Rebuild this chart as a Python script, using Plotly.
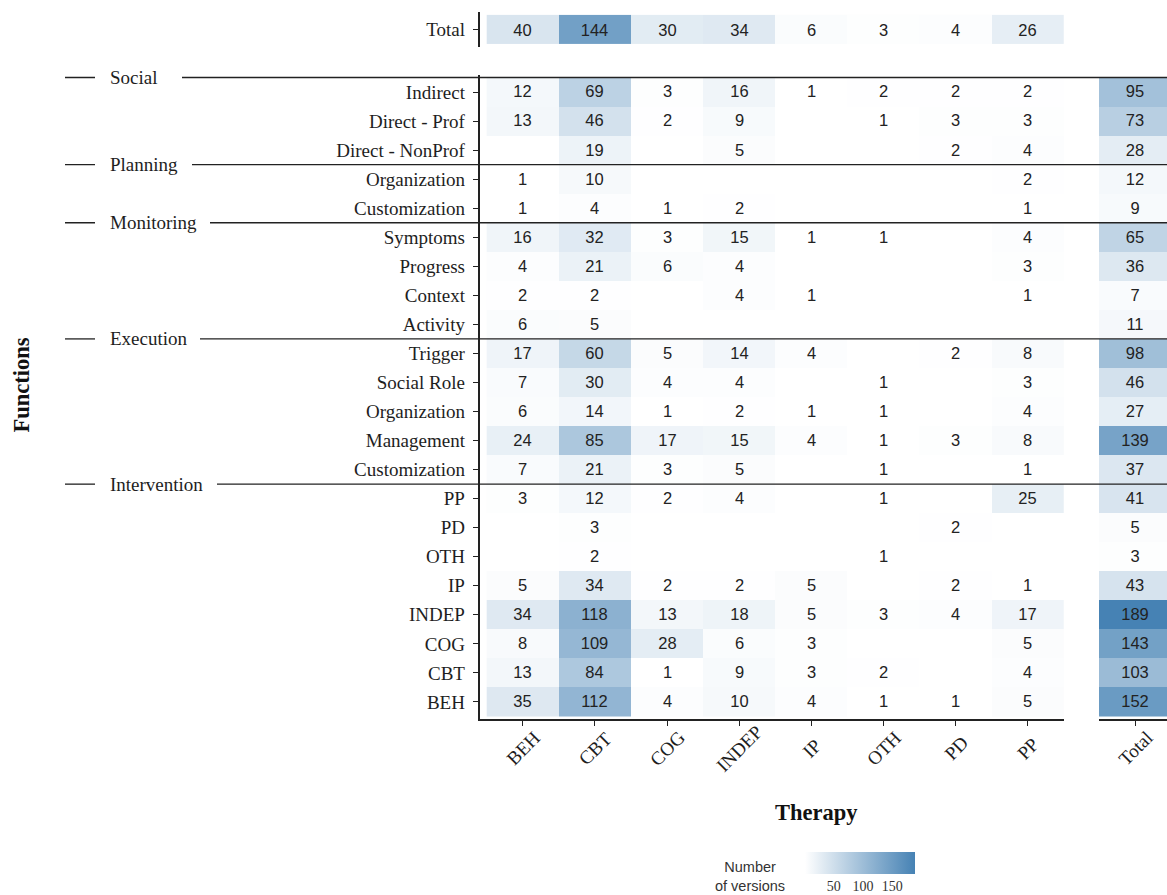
import plotly.graph_objects as go

# ---------------- data ----------------
therapies = ["BEH", "CBT", "COG", "INDEP", "IP", "OTH", "PD", "PP"]
functions = ["Indirect", "Direct - Prof", "Direct - NonProf",
             "Organization", "Customization",
             "Symptoms", "Progress", "Context", "Activity",
             "Trigger", "Social Role", "Organization", "Management", "Customization",
             "PP", "PD", "OTH", "IP", "INDEP", "COG", "CBT", "BEH"]
groups = ["Social", "Planning", "Monitoring", "Execution", "Intervention"]
group_start_rows = [0, 3, 5, 9, 14]

N = None
values = [
    [12, 69, 3, 16, 1, 2, 2, 2],
    [13, 46, 2, 9, N, 1, 3, 3],
    [N, 19, N, 5, N, N, 2, 4],
    [1, 10, N, N, N, N, N, 2],
    [1, 4, 1, 2, N, N, N, 1],
    [16, 32, 3, 15, 1, 1, N, 4],
    [4, 21, 6, 4, N, N, N, 3],
    [2, 2, N, 4, 1, N, N, 1],
    [6, 5, N, N, N, N, N, N],
    [17, 60, 5, 14, 4, N, 2, 8],
    [7, 30, 4, 4, N, 1, N, 3],
    [6, 14, 1, 2, 1, 1, N, 4],
    [24, 85, 17, 15, 4, 1, 3, 8],
    [7, 21, 3, 5, N, 1, N, 1],
    [3, 12, 2, 4, N, 1, N, 25],
    [N, 3, N, N, N, N, 2, N],
    [N, 2, N, N, N, 1, N, N],
    [5, 34, 2, 2, 5, N, 2, 1],
    [34, 118, 13, 18, 5, 3, 4, 17],
    [8, 109, 28, 6, 3, N, N, 5],
    [13, 84, 1, 9, 3, 2, N, 4],
    [35, 112, 4, 10, 4, 1, 1, 5],
]
row_totals = [95, 73, 28, 12, 9, 65, 36, 7, 11, 98, 46, 27, 139, 37,
              41, 5, 3, 43, 189, 143, 103, 152]
col_totals = [40, 144, 30, 34, 6, 3, 4, 26]
colorbar_ticks = [50, 100, 150]

# ---------------- layout helpers ----------------
W, H = 1167, 895
def fx(p):
    return p / W
def fy(p):
    return 1 - p / H

SERIF = "Liberation Serif"
SANS = "Liberation Sans"
INK = "#222222"
LABEL = "#1e1e1e"
CELL_FONT = dict(family=SANS, size=16.5, color="#222222")

CMIN, CMAX = 1, 189
CB_LEFT, CB_LEN, CB_TOP, CB_THICK = 805, 110, 852, 22

def txt(arr):
    return [["" if v is None else str(v) for v in row] for row in arr]

coloraxis = dict(
    colorscale=[[0, "#FFFFFF"], [1, "#4682B4"]],
    cmin=CMIN, cmax=CMAX,
    colorbar=dict(
        orientation="h",
        x=fx(CB_LEFT), xanchor="left",
        y=fy(CB_TOP), yanchor="top",
        len=CB_LEN, lenmode="pixels",
        thickness=CB_THICK,
        outlinewidth=0,
        tickvals=colorbar_ticks,
        ticks="outside", ticklen=1, tickcolor="rgba(0,0,0,0)",
        tickfont=dict(family=SERIF, size=14, color="#333333"),
        xpad=0, ypad=0,
    ),
)

fig = go.Figure()

nrows = len(functions)
ncols = len(therapies)

# main heatmap
fig.add_trace(go.Heatmap(
    z=values, x=list(range(ncols)), y=list(range(nrows)),
    text=txt(values), texttemplate="%{text}", textfont=CELL_FONT,
    coloraxis="coloraxis", xaxis="x", yaxis="y", hoverongaps=False,
))
# total column
fig.add_trace(go.Heatmap(
    z=[[v] for v in row_totals], x=[0], y=list(range(nrows)),
    text=[[str(v)] for v in row_totals], texttemplate="%{text}", textfont=CELL_FONT,
    coloraxis="coloraxis", xaxis="x2", yaxis="y2",
))
# total row
fig.add_trace(go.Heatmap(
    z=[col_totals], x=list(range(ncols)), y=[0],
    text=[[str(v) for v in col_totals]], texttemplate="%{text}", textfont=CELL_FONT,
    coloraxis="coloraxis", xaxis="x3", yaxis="y3",
))

main_y = [74.6, 719.4]
axis_line = dict(showline=True, linecolor=INK, linewidth=1.5)
tick_style = dict(ticks="outside", ticklen=5, tickcolor=INK, tickwidth=1.2)

fig.update_layout(
    width=W, height=H, autosize=False,
    margin=dict(l=0, r=0, t=0, b=0, autoexpand=False),
    paper_bgcolor="white", plot_bgcolor="white",
    coloraxis=coloraxis,
    showlegend=False,
    xaxis=dict(domain=[fx(479.5), fx(1064)], range=[-0.6, 7.5],
               tickvals=list(range(ncols)), showticklabels=False,
               showgrid=False, zeroline=False, anchor="y", **axis_line, **tick_style),
    yaxis=dict(domain=[fy(main_y[1]), fy(main_y[0])], range=[21.6, -0.6],
               tickvals=list(range(nrows)), ticktext=functions,
               tickfont=dict(family=SERIF, size=19, color=LABEL),
               ticklabelstandoff=4,
               showgrid=False, zeroline=False, anchor="x", **axis_line, **tick_style),
    xaxis2=dict(domain=[fx(1099), 1.0], range=[-0.5, 0.44],
                tickvals=[0], showticklabels=False,
                showgrid=False, zeroline=False, anchor="y2", **axis_line, **tick_style),
    yaxis2=dict(domain=[fy(main_y[1]), fy(main_y[0])], range=[21.6, -0.6],
                showticklabels=False, showgrid=False, zeroline=False,
                showline=False, anchor="x2"),
    xaxis3=dict(domain=[fx(479.5), fx(1064)], range=[-0.6, 7.5],
                showticklabels=False, showgrid=False, zeroline=False,
                showline=False, anchor="y3"),
    yaxis3=dict(domain=[fy(47), fy(12)], range=[-0.6, 0.6],
                tickvals=[0], ticktext=["Total"],
                tickfont=dict(family=SERIF, size=19, color=LABEL),
                ticklabelstandoff=4,
                showgrid=False, zeroline=False, anchor="x3", **axis_line, **tick_style),
)

shapes = []
annotations = []

# rotated x tick labels, centred under each tick
for i, t in enumerate(therapies):
    annotations.append(dict(text=t, xref="x", yref="paper", x=i, y=fy(748),
                            textangle=-45, showarrow=False,
                            xanchor="center", yanchor="middle",
                            font=dict(family=SERIF, size=19, color=LABEL)))
annotations.append(dict(text="Total", xref="x2", yref="paper", x=0, y=fy(748),
                        textangle=-45, showarrow=False,
                        xanchor="center", yanchor="middle",
                        font=dict(family=SERIF, size=19, color=LABEL)))

# group separators and labels
line_starts = [182, 192, 210, 200, 217]
for g, r, xs in zip(groups, group_start_rows, line_starts):
    yv = r - 0.5
    shapes.append(dict(type="line", xref="paper", yref="y",
                       x0=fx(65), x1=fx(95), y0=yv, y1=yv,
                       line=dict(color=INK, width=1.3)))
    shapes.append(dict(type="line", xref="paper", yref="y",
                       x0=fx(xs), x1=1.0, y0=yv, y1=yv,
                       line=dict(color=INK, width=1.3)))
    annotations.append(dict(text=g, xref="paper", yref="y",
                            x=fx(108), y=yv, xanchor="left", yanchor="middle",
                            showarrow=False,
                            font=dict(family=SERIF, size=19, color=LABEL)))

# white tick marks inside the colour bar (as ggplot draws them)
for v in colorbar_ticks:
    xp = CB_LEFT + (v - CMIN) / (CMAX - CMIN) * CB_LEN
    for y0, y1 in [(CB_TOP, CB_TOP + 4), (CB_TOP + CB_THICK - 4, CB_TOP + CB_THICK)]:
        shapes.append(dict(type="line", xref="paper", yref="paper",
                           x0=fx(xp), x1=fx(xp), y0=fy(y0), y1=fy(y1),
                           line=dict(color="white", width=1)))

annotations.append(dict(text="<b>Functions</b>", xref="paper", yref="paper",
                        x=fx(20.5), y=fy(385), textangle=-90, showarrow=False,
                        xanchor="center", yanchor="middle",
                        font=dict(family=SERIF, size=22.5, color="#111111")))
annotations.append(dict(text="<b>Therapy</b>", xref="paper", yref="paper",
                        x=fx(816), y=fy(812), showarrow=False,
                        xanchor="center", yanchor="middle",
                        font=dict(family=SERIF, size=22.5, color="#111111")))
annotations.append(dict(text="Number<br>of versions", xref="paper", yref="paper",
                        x=fx(750), y=fy(876), showarrow=False, align="center",
                        xanchor="center", yanchor="middle",
                        font=dict(family=SANS, size=14.5, color="#333333")))

fig.update_layout(shapes=shapes, annotations=annotations)

fig.write_html("out.html",
               config={"displayModeBar": False},
               post_script="document.body.style.margin='0';document.body.style.overflow='hidden';")
